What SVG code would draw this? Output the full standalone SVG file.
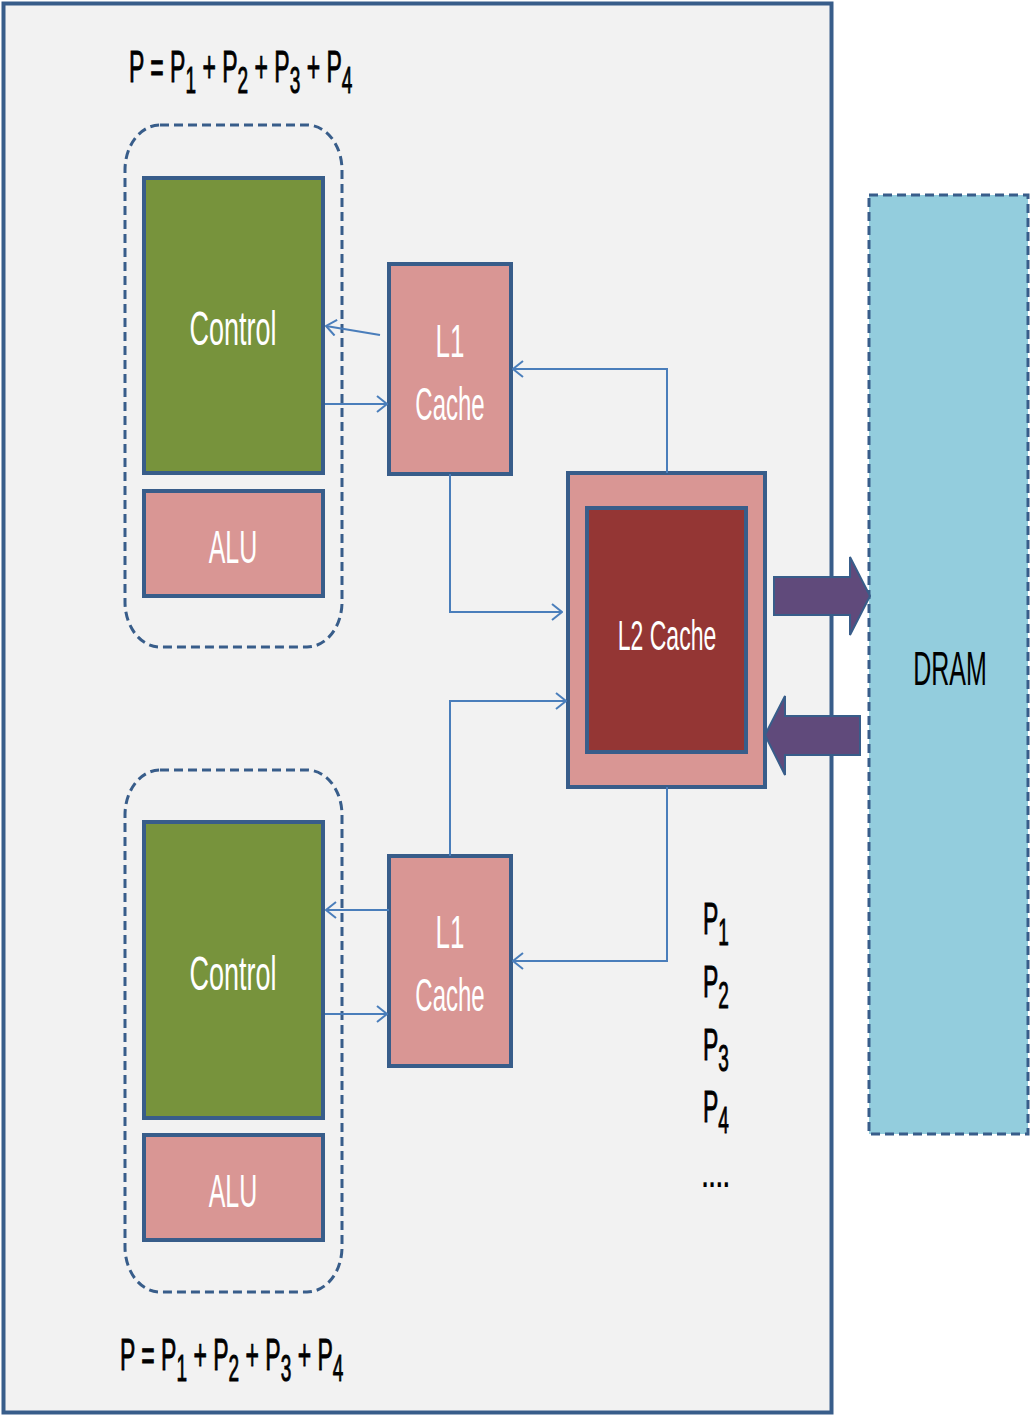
<svg xmlns="http://www.w3.org/2000/svg" width="1031" height="1416" viewBox="0 0 1031 1416">
<style>
.box{stroke:#385d8a;stroke-width:4}
.green{fill:#77933c}
.pink{fill:#d99694}
.dark{fill:#943634}
.grp{fill:none;stroke:#385d8a;stroke-width:3;stroke-dasharray:9 5}
.conn{fill:none;stroke:#4a7ebb;stroke-width:2;marker-end:url(#open)}
.fat{fill:#604a7b;stroke:#385d8a;stroke-width:2}
text{font-family:"Liberation Sans",Arial,sans-serif}
.w{fill:#ffffff;text-anchor:middle}
.k{fill:#000000}
.eq{fill:#000000;stroke:#000000;stroke-width:0.5}
</style>
<defs>
<marker id="open" viewBox="0 0 12 18" refX="11" refY="9" markerWidth="12" markerHeight="18" markerUnits="userSpaceOnUse" orient="auto">
<path d="M1,1 L11,9 L1,17" fill="none" stroke="#4a7ebb" stroke-width="2"/>
</marker>
</defs>
<rect x="0" y="0" width="1031" height="1416" fill="#ffffff"/>
<rect id="panel" x="3.5" y="3.5" width="828" height="1409" fill="#f2f2f2" stroke="#385d8a" stroke-width="4"/>

<g id="dram">
<rect x="869" y="195" width="159" height="939" fill="#93cddd" stroke="#385d8a" stroke-width="3" stroke-dasharray="9 5"/>
<g transform="translate(950,685) scale(1,1.96)"><text class="k" x="0" y="0" font-size="25" text-anchor="middle">DRAM</text></g>
</g>

<g id="core-top">
<rect class="grp" x="125" y="125" width="217" height="522" rx="35" ry="45"/>
</g>
<g id="control-top">
<rect class="box green" x="144" y="178" width="179" height="295"/>
<g transform="translate(233,345) scale(1,1.75)"><text class="w" x="0" y="0" font-size="27">Control</text></g>
</g>
<g id="alu-top">
<rect class="box pink" x="144" y="491" width="179" height="105"/>
<g transform="translate(233,563) scale(1,1.85)"><text class="w" x="0" y="0" font-size="25">ALU</text></g>
</g>
<g id="l1-top">
<rect class="box pink" x="389" y="264" width="122" height="210"/>
<g transform="translate(450,357) scale(1,1.8)"><text class="w" x="0" y="0" font-size="26">L1</text></g>
<g transform="translate(450,420) scale(1,1.95)"><text class="w" x="0" y="0" font-size="24">Cache</text></g>
</g>

<g id="core-bottom">
<rect class="grp" x="125" y="770" width="217" height="522" rx="35" ry="45"/>
</g>
<g id="control-bottom">
<rect class="box green" x="144" y="822" width="179" height="296"/>
<g transform="translate(233,990) scale(1,1.75)"><text class="w" x="0" y="0" font-size="27">Control</text></g>
</g>
<g id="alu-bottom">
<rect class="box pink" x="144" y="1135" width="179" height="105"/>
<g transform="translate(233,1207) scale(1,1.85)"><text class="w" x="0" y="0" font-size="25">ALU</text></g>
</g>
<g id="l1-bottom">
<rect class="box pink" x="389" y="856" width="122" height="210"/>
<g transform="translate(450,948) scale(1,1.8)"><text class="w" x="0" y="0" font-size="26">L1</text></g>
<g transform="translate(450,1011) scale(1,1.95)"><text class="w" x="0" y="0" font-size="24">Cache</text></g>
</g>

<g id="l2">
<rect class="box pink" x="568" y="473" width="197" height="314"/>
<rect class="box dark" x="587" y="508" width="159" height="244"/>
<g transform="translate(667,650) scale(1,1.85)"><text class="w" x="0" y="0" font-size="23">L2 Cache</text></g>
</g>

<g id="connectors">
<path class="conn" d="M380,335 L326,326"/>
<path class="conn" d="M325,404 L387,404"/>
<path class="conn" d="M667,473 L667,369 L513,369"/>
<path class="conn" d="M450,474 L450,612 L562,612"/>
<path class="conn" d="M450,856 L450,701 L566,701"/>
<path class="conn" d="M667,787 L667,961 L513,961"/>
<path class="conn" d="M389,910 L326,910"/>
<path class="conn" d="M325,1014 L387,1014"/>
<polygon class="fat" points="774,577 850,577 850,557 870,596 850,635 850,615 774,615"/>
<polygon class="fat" points="860,716 785,716 785,696 765,735 785,775 785,755 860,755"/>
</g>

<g id="formula-top" transform="translate(129,82) scale(1,1.94)">
<text class="eq" x="0" y="0" font-size="23">P = P<tspan font-size="19" dy="5.7">1</tspan><tspan dy="-5.7"> + P</tspan><tspan font-size="19" dy="5.7">2</tspan><tspan dy="-5.7"> + P</tspan><tspan font-size="19" dy="5.7">3</tspan><tspan dy="-5.7"> + P</tspan><tspan font-size="19" dy="5.7">4</tspan></text>
</g>
<g id="formula-bottom" transform="translate(120,1370) scale(1,1.94)">
<text class="eq" x="0" y="0" font-size="23">P = P<tspan font-size="19" dy="5.7">1</tspan><tspan dy="-5.7"> + P</tspan><tspan font-size="19" dy="5.7">2</tspan><tspan dy="-5.7"> + P</tspan><tspan font-size="19" dy="5.7">3</tspan><tspan dy="-5.7"> + P</tspan><tspan font-size="19" dy="5.7">4</tspan></text>
</g>

<g id="plist">
<g transform="translate(703,934) scale(1,1.94)"><text class="eq" x="0" y="0" font-size="23">P<tspan font-size="19" dy="5.7">1</tspan></text></g>
<g transform="translate(703,997) scale(1,1.94)"><text class="eq" x="0" y="0" font-size="23">P<tspan font-size="19" dy="5.7">2</tspan></text></g>
<g transform="translate(703,1060) scale(1,1.94)"><text class="eq" x="0" y="0" font-size="23">P<tspan font-size="19" dy="5.7">3</tspan></text></g>
<g transform="translate(703,1122) scale(1,1.94)"><text class="eq" x="0" y="0" font-size="23">P<tspan font-size="19" dy="5.7">4</tspan></text></g>
<g transform="translate(702,1187) scale(1,1.4)"><text class="k" x="0" y="0" font-size="22" font-weight="bold" letter-spacing="1">....</text></g>
</g>
</svg>
